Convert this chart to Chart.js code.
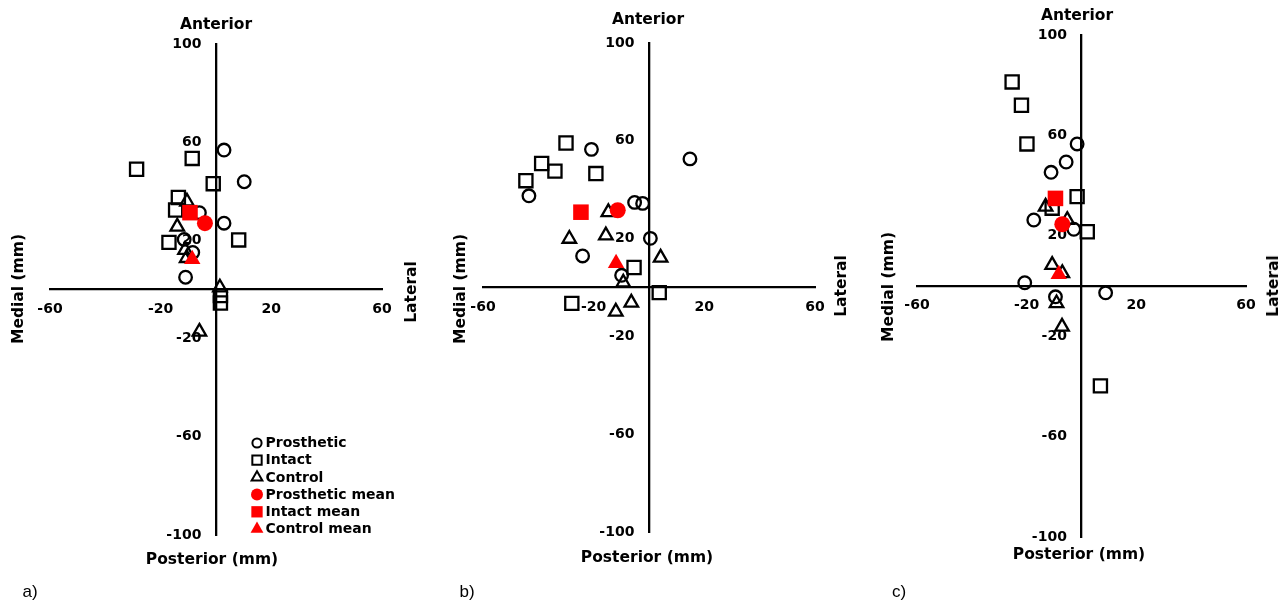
<!DOCTYPE html>
<html>
<head>
<meta charset="utf-8">
<title>Centre of pressure positions</title>
<script src="https://cdn.jsdelivr.net/npm/chart.js@4.4.1/dist/chart.umd.min.js"></script>
<style>
  html, body { margin: 0; padding: 0; background: #fff; }
  #wrap { position: relative; width: 1286px; height: 604px; overflow: hidden; }
  #wrap canvas { position: absolute; left: 0; top: 0; }
  .lbl { position: absolute; font-family: 'DejaVu Sans', Verdana, sans-serif; font-weight: bold;
         font-size: 15.5px; color: #000; white-space: nowrap; transform: translate(-50%, -50%); }
  .rot { transform: translate(-50%, -50%) rotate(-90deg); }
  .tag { position: absolute; font-family: 'Liberation Sans', Arial, sans-serif; font-size: 17px;
         color: #000; transform: translate(-50%, -50%); }
</style>
</head>
<body>
<div id="wrap">
  <canvas id="chartA" width="1286" height="604"></canvas>
  <canvas id="chartB" width="1286" height="604"></canvas>
  <canvas id="chartC" width="1286" height="604"></canvas>

  <div class="lbl" style="left:216px; top:24px;">Anterior</div>
  <div class="lbl" style="left:212px; top:559px;">Posterior (mm)</div>
  <div class="lbl rot" style="left:18px; top:289px;">Medial (mm)</div>
  <div class="lbl rot" style="left:411px; top:292px;">Lateral</div>
  <div class="tag" style="left:30px; top:592px;">a)</div>

  <div class="lbl" style="left:648px; top:19px;">Anterior</div>
  <div class="lbl" style="left:647px; top:557px;">Posterior (mm)</div>
  <div class="lbl rot" style="left:460px; top:289px;">Medial (mm)</div>
  <div class="lbl rot" style="left:841px; top:286px;">Lateral</div>
  <div class="tag" style="left:467px; top:592px;">b)</div>

  <div class="lbl" style="left:1077px; top:15px;">Anterior</div>
  <div class="lbl" style="left:1079px; top:554px;">Posterior (mm)</div>
  <div class="lbl rot" style="left:888px; top:287px;">Medial (mm)</div>
  <div class="lbl rot" style="left:1273px; top:286px;">Lateral</div>
  <div class="tag" style="left:899px; top:592px;">c)</div>
</div>

<script>
// tick values on both axes
var xTicks = [-60, -20, 20, 60];
var yTicks = [-100, -60, -20, 20, 60, 100];

var seriesNames = ['Prosthetic', 'Intact', 'Control', 'Prosthetic mean', 'Intact mean', 'Control mean'];

// panel a) [medio-lateral, antero-posterior] in mm
var aProsthetic = [[2.9, 56.8], [10.2, 43.9], [2.9, 27.0], [-6.0, 31.3], [-11.5, 20.4], [-8.4, 15.1], [-11.0, 5.0]];
var aIntact = [[-28.7, 49.0], [-8.6, 53.4], [-1.0, 43.1], [-13.6, 37.5], [-14.6, 32.4], [-17.0, 19.2], [8.2, 20.2], [1.6, -2.5], [1.6, -5.5]];
var aControl = [[-10.5, 35.8], [-14.0, 25.6], [-11.2, 16.1], [-10.6, 12.8], [1.4, 0.8], [-6.0, -17.2]];
var aProstheticMean = [[-4.0, 27.0]];
var aIntactMean = [[-9.4, 31.3]];
var aControlMean = [[-8.6, 12.3]];

// panel b)
var bProsthetic = [[-20.8, 56.5], [-43.4, 37.5], [14.8, 52.6], [-5.2, 34.8], [-2.3, 34.4], [0.5, 20.1], [-24.0, 12.9], [-9.9, 5.0]];
var bIntact = [[-30.0, 59.1], [-38.8, 50.7], [-34.0, 47.6], [-44.5, 43.7], [-19.2, 46.6], [-5.4, 8.2], [3.7, -2.1], [-27.9, -6.5]];
var bControl = [[-14.7, 30.8], [-28.8, 19.9], [-15.6, 21.3], [4.2, 12.2], [-9.3, 2.0], [-6.4, -6.2], [-12.0, -9.9]];
var bProstheticMean = [[-11.3, 31.6]];
var bIntactMean = [[-24.6, 30.8]];
var bControlMean = [[-11.9, 9.9]];

// panel c)
var cProsthetic = [[-1.6, 56.6], [-5.6, 49.4], [-11.1, 45.3], [-17.4, 26.3], [-2.8, 22.6], [-20.7, 1.3], [8.8, -2.7], [-9.5, -4.3]];
var cIntact = [[-25.3, 81.3], [-21.9, 72.0], [-19.9, 56.6], [-1.6, 35.6], [2.1, 21.6], [-10.7, 31.0], [6.9, -39.8]];
var cControl = [[-13.1, 31.6], [-5.2, 26.3], [-10.7, 8.4], [-7.0, 5.1], [-9.1, -6.9], [-7.1, -16.2]];
var cProstheticMean = [[-7.0, 24.6]];
var cIntactMean = [[-9.5, 34.9]];
var cControlMean = [[-8.3, 4.7]];

// marker look for each series (same order as seriesNames)
var markers = [
    { style: 'circle',   radius: 6.3, fill: 'rgba(0,0,0,0)', line: '#000', width: 2.3, legendRadius: 4.6 },
    { style: 'rect',     radius: 9.3, fill: 'rgba(0,0,0,0)', line: '#000', width: 2.3, legendRadius: 6.6 },
    { style: 'triangle', radius: 7.8, fill: 'rgba(0,0,0,0)', line: '#000', width: 2.3, legendRadius: 6.2 },
    { style: 'circle',   radius: 8.0, fill: '#ff0000', line: '#ff0000', width: 0, legendRadius: 6.0 },
    { style: 'rect',     radius: 11,  fill: '#ff0000', line: '#ff0000', width: 0, legendRadius: 8.0 },
    { style: 'triangle', radius: 9.5, fill: '#ff0000', line: '#ff0000', width: 0, legendRadius: 7.4 }
];

var tickFont = { family: "'DejaVu Sans', Verdana, sans-serif", weight: 'bold', size: 14 };

function toPoints(arr) {
    return arr.map(function (p) { return { x: p[0], y: p[1] }; });
}

var legendBox = {
    id: 'legendBox',
    afterDraw: function (chart, args, opts) {
        if (!opts.show) return;
        var ctx = chart.ctx;
        ctx.save();
        chart.data.datasets.forEach(function (ds, i) {
            var m = markers[i];
            var y = opts.y + i * opts.step;
            ctx.fillStyle = m.fill;
            ctx.strokeStyle = m.line;
            ctx.lineWidth = 2;
            Chart.helpers.drawPoint(ctx, { pointStyle: m.style, radius: m.legendRadius, rotation: 0, borderWidth: m.width ? 2 : 0 }, opts.x, y);
            ctx.fillStyle = '#000';
            ctx.font = 'bold 14px "DejaVu Sans", Verdana, sans-serif';
            ctx.textBaseline = 'middle';
            ctx.textAlign = 'left';
            ctx.fillText(ds.label, opts.x + 8.5, y + 0.5);
        });
        ctx.restore();
    }
};

function makePanel(id, pad, groups, legend) {
    var datasets = groups.map(function (g, i) {
        var m = markers[i];
        return {
            label: seriesNames[i],
            data: toPoints(g),
            pointStyle: m.style,
            pointRadius: m.radius,
            pointHoverRadius: m.radius,
            backgroundColor: m.fill,
            borderColor: m.line,
            borderWidth: m.width,
            order: i > 2 ? 0 : 1,
            showLine: false
        };
    });

    new Chart(document.getElementById(id), {
        type: 'scatter',
        data: { datasets: datasets },
        plugins: [legendBox],
        options: {
            responsive: false,
            animation: false,
            events: [],
            layout: { padding: pad },
            plugins: {
                legend: { display: false },
                tooltip: { enabled: false },
                legendBox: legend || { show: false }
            },
            scales: {
                x: {
                    type: 'linear', min: -60, max: 60,
                    position: { y: 0 },
                    afterBuildTicks: function (axis) { axis.ticks = xTicks.map(function (v) { return { value: v }; }); },
                    grid: { display: false, drawTicks: false },
                    border: { display: true, color: '#000', width: 2.3 },
                    ticks: { color: '#000', font: tickFont, padding: 11, maxRotation: 0, autoSkip: false }
                },
                y: {
                    type: 'linear', min: -100, max: 100,
                    position: { x: 0 },
                    afterBuildTicks: function (axis) { axis.ticks = yTicks.map(function (v) { return { value: v }; }); },
                    grid: { display: false, drawTicks: false },
                    border: { display: true, color: '#000', width: 2.3 },
                    // padding is ignored for a y axis pinned to x = 0, so push the labels off the line
                    ticks: { color: '#000', font: tickFont, autoSkip: false,
                             callback: function (v) { return v + '   '; } }
                }
            }
        }
    });
}

makePanel('chartA', { left: 50, right: 904, top: 44, bottom: 69 },
    [aProsthetic, aIntact, aControl, aProstheticMean, aIntactMean, aControlMean],
    { show: true, x: 257, y: 443, step: 17.2 });

makePanel('chartB', { left: 483, right: 471, top: 43, bottom: 72 },
    [bProsthetic, bIntact, bControl, bProstheticMean, bIntactMean, bControlMean]);

makePanel('chartC', { left: 917, right: 40, top: 35, bottom: 67 },
    [cProsthetic, cIntact, cControl, cProstheticMean, cIntactMean, cControlMean]);
</script>
</body>
</html>
